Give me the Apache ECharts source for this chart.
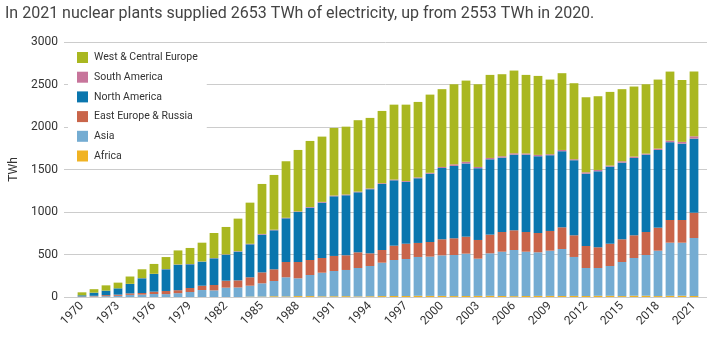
<!DOCTYPE html>
<html>
<head>
<meta charset="utf-8">
<script src="https://cdn.jsdelivr.net/npm/echarts@6/dist/echarts.min.js"></script>
<style>
html,body{margin:0;padding:0;background:#fff;}
#chart{width:712px;height:339px;}
</style>
</head>
<body>
<div id="chart"></div>
<script>
const titleText = 'In 2021 nuclear plants supplied 2653 TWh of electricity, up from 2553 TWh in 2020.';
const years = [];
for (let y = 1970; y <= 2021; y++) years.push(String(y));
const yTicks = [0, 500, 1000, 1500, 2000, 2500, 3000];

const africa = [0,0,0,0,0,0,0,0,0,0, 0,0,0,0,5,5,9,7,11,11, 8,9,10,7,9,11,12,12,14,13, 13,11,12,13,14,12,10,12,13,13, 12,13,12,14,14,11,15,15,11,14, 15,12];
const asia = [3,7,10,14,25,28,35,34,45,59, 82,78,110,112,128,156,179,225,209,248, 278,297,308,334,356,393,423,435,457,462, 477,483,498,438,500,521,543,521,513,532, 553,458,329,327,351,401,444,479,534,625, 624,682];
const eastEurope = [4,7,12,14,18,19,28,37,35,47, 51,63,82,84,99,129,138,180,192,176, 173,177,173,185,149,149,169,180,165,172, 189,197,200,220,220,232,232,232,227,232, 255,255,259,244,262,267,267,271,271,267, 267,298];
const northAmerica = [13,37,53,74,110,173,208,255,300,279, 283,314,306,338,388,444,459,514,588,616, 651,702,706,706,754,777,769,727,761,804, 839,851,861,844,886,875,890,910,903,891, 895,883,851,894,907,902,910,910,914,915, 898,871];
const southAmerica = [0,0,0,0,2,2,2,3,3,3, 2,3,4,5,6,8,7,6,7,8, 9,9,9,8,9,9,9,10,10,10, 12,19,20,15,16,16,16,14,16,12, 15,12,16,16,12,16,16,12,16,19, 21,28];
const westEurope = [35,41,62,67,86,104,116,141,165,189, 221,295,322,383,484,588,644,665,723,777, 768,795,798,840,830,850,881,899,888,920, 915,942,955,973,977,965,973,924,929,878, 903,894,883,867,867,848,824,816,812,812, 728,762];

const seriesDefs = [
  {name: 'Africa', data: africa, color: '#f0b323'},
  {name: 'Asia', data: asia, color: '#74acd2'},
  {name: 'East Europe & Russia', data: eastEurope, color: '#c9654a'},
  {name: 'North America', data: northAmerica, color: '#0a76ae'},
  {name: 'South America', data: southAmerica, color: '#c7759b'},
  {name: 'West & Central Europe', data: westEurope, color: '#a9b720'}
];

const chart = echarts.init(document.getElementById('chart'), null, {renderer: 'canvas'});
const font = 'Roboto, "Noto Sans", sans-serif';
const option = {
  animation: false,
  backgroundColor: '#fff',
  textStyle: {fontFamily: font},
  title: {
    text: titleText,
    left: 0, top: 1,
    textStyle: {fontSize: 16, fontWeight: 'normal', color: '#444', fontFamily: font}
  },
  legend: {
    data: seriesDefs.map(s => s.name).reverse(),
    orient: 'vertical',
    left: 68, top: 46,
    padding: [6, 9, 6, 9],
    backgroundColor: '#fff',
    itemWidth: 11, itemHeight: 11, itemGap: 8.7,
    icon: 'rect',
    textStyle: {fontSize: 10.5, color: '#333', fontFamily: font, padding: [0, 0, 0, 1]},
    z: 10
  },
  grid: [
    {left: 76, right: 12, top: 42, bottom: 42},
    {left: 62, right: 5, top: 42, bottom: 42}
  ],
  xAxis: [
    {
      type: 'category', gridIndex: 0, data: years,
      axisLine: {show: false}, axisTick: {show: false},
      axisLabel: {interval: 2, rotate: 45, fontSize: 12, color: '#333', margin: 7, fontFamily: font}
    },
    {type: 'category', gridIndex: 1, data: years, show: false}
  ],
  yAxis: [
    {type: 'value', gridIndex: 0, min: yTicks[0], max: yTicks[yTicks.length - 1], interval: 500,
      axisLabel: {show: false}, splitLine: {show: false}, axisLine: {show: false}, axisTick: {show: false}},
    {type: 'value', gridIndex: 1, min: yTicks[0], max: yTicks[yTicks.length - 1], interval: 500,
      name: 'TWh', nameLocation: 'middle', nameGap: 44, nameRotate: 90,
      nameTextStyle: {fontSize: 12, color: '#333', fontFamily: font},
      axisLabel: {fontSize: 12, color: '#333', margin: 6, fontFamily: font, formatter: v => String(v)},
      axisLine: {show: false}, axisTick: {show: false},
      splitLine: {show: true, lineStyle: {color: '#cccccc', width: 1}}}
  ],
  series: seriesDefs.map(s => ({
    name: s.name, type: 'bar', stack: 'total',
    xAxisIndex: 0, yAxisIndex: 0,
    data: s.data, barCategoryGap: '27%',
    itemStyle: {color: s.color},
    emphasis: {disabled: true}
  }))
};
chart.setOption(option);
</script>
</body>
</html>
